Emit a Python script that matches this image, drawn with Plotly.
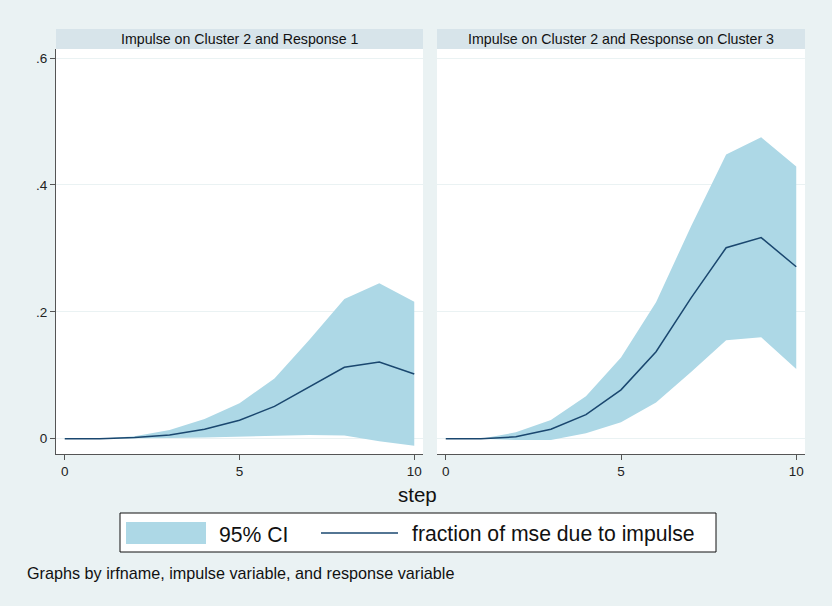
import plotly.graph_objects as go

steps = [0, 1, 2, 3, 4, 5, 6, 7, 8, 9, 10]

# Panel 1: Impulse on Cluster 2 and Response 1
p1_fmse = [0, 0, 0.002, 0.006, 0.015, 0.029, 0.051, 0.082, 0.1125, 0.121, 0.102]
p1_upper = [0, 0, 0.004, 0.0137, 0.031, 0.056, 0.095, 0.156, 0.220, 0.245, 0.216]
p1_lower = [0, 0, 0.0, 0.001, 0.002, 0.003, 0.004, 0.006, 0.005, -0.004, -0.011]

# Panel 2: Impulse on Cluster 2 and Response on Cluster 3
p2_fmse = [0, 0, 0.003, 0.015, 0.038, 0.077, 0.137, 0.222, 0.301, 0.317, 0.271]
p2_upper = [0, 0, 0.010, 0.0295, 0.067, 0.128, 0.215, 0.335, 0.448, 0.475, 0.429]
p2_lower = [0, 0, -0.002, -0.002, 0.0085, 0.026, 0.057, 0.105, 0.155, 0.160, 0.110]

panel_titles = ["Impulse on Cluster 2 and Response 1",
                "Impulse on Cluster 2 and Response on Cluster 3"]
y_tickvals = [0, 0.2, 0.4, 0.6]
y_ticktext = ["0", ".2", ".4", ".6"]
x_tickvals = [0, 5, 10]

W, H = 832, 606
BG = "#eaf2f3"
STRIP = "#d7e4ea"
FILL = "#add8e6"
LINE = "#1a476f"
AX = "#555555"
FONT = "Liberation Sans, Arial, Helvetica, sans-serif"

def px_x(v):
    return v / W

def px_y(v):
    return 1 - v / H

fig = go.Figure()

panels = [(p1_lower, p1_upper, p1_fmse, "x", "y"),
          (p2_lower, p2_upper, p2_fmse, "x2", "y2")]
for i, (lo, up, fm, xa, ya) in enumerate(panels):
    fig.add_trace(go.Scatter(x=steps, y=lo, mode="lines", line=dict(width=0, color=FILL),
                             showlegend=False, hoverinfo="skip", xaxis=xa, yaxis=ya))
    fig.add_trace(go.Scatter(x=steps, y=up, mode="lines", line=dict(width=0, color=FILL),
                             fill="tonexty", fillcolor=FILL, name="95% CI",
                             showlegend=False, xaxis=xa, yaxis=ya))
    fig.add_trace(go.Scatter(x=steps, y=fm, mode="lines", line=dict(width=1.5, color=LINE),
                             name="fraction of mse due to impulse", showlegend=False,
                             xaxis=xa, yaxis=ya))

left_dom = [px_x(56), px_x(423)]
right_dom = [px_x(437), px_x(805)]
ydom = [px_y(454), px_y(49)]
yrange = [-0.0241, 0.6142]
xrange = [-0.25, 10.25]

common_x = dict(range=xrange, tickvals=x_tickvals, ticks="outside", ticklen=5,
                tickcolor=AX, showline=True, linecolor=AX, linewidth=1.2,
                showgrid=False, zeroline=False,
                tickfont=dict(size=13.5, color="#222", family=FONT))
fig.update_layout(
    xaxis=dict(domain=left_dom, anchor="y", **common_x),
    xaxis2=dict(domain=right_dom, anchor="y2", **common_x),
    yaxis=dict(domain=ydom, anchor="x", range=yrange, tickvals=y_tickvals,
               ticktext=y_ticktext, ticks="outside", ticklen=5, tickcolor=AX,
               showline=True, linecolor=AX, linewidth=1.2, showgrid=True,
               gridcolor=BG, gridwidth=1, zeroline=False,
               tickfont=dict(size=13.5, color="#222", family=FONT)),
    yaxis2=dict(domain=ydom, anchor="x2", range=yrange, tickvals=y_tickvals,
                showticklabels=False, ticks="", showline=False, showgrid=True,
                gridcolor=BG, gridwidth=1, zeroline=False),
)

shapes = []
annotations = []
# title strips
for dom, title in zip([left_dom, right_dom], panel_titles):
    shapes.append(dict(type="rect", xref="paper", yref="paper",
                       x0=dom[0], x1=dom[1], y0=px_y(49), y1=px_y(29),
                       fillcolor=STRIP, line=dict(width=0), layer="below"))
    annotations.append(dict(xref="paper", yref="paper", x=(dom[0] + dom[1]) / 2,
                            y=px_y(39), text=title, showarrow=False,
                            xanchor="center", yanchor="middle",
                            font=dict(size=14.2, color="#111", family=FONT)))

# x title
annotations.append(dict(xref="paper", yref="paper", x=px_x(417), y=px_y(495),
                        text="step", showarrow=False, xanchor="center", yanchor="middle",
                        font=dict(size=20.5, color="#111", family=FONT)))

# legend box (manual)
shapes.append(dict(type="rect", xref="paper", yref="paper",
                   x0=px_x(120), x1=px_x(716), y0=px_y(552), y1=px_y(513),
                   fillcolor="white", line=dict(color="#111", width=1)))
shapes.append(dict(type="rect", xref="paper", yref="paper",
                   x0=px_x(126), x1=px_x(206), y0=px_y(544), y1=px_y(522),
                   fillcolor=FILL, line=dict(width=0)))
shapes.append(dict(type="line", xref="paper", yref="paper",
                   x0=px_x(321), x1=px_x(398), y0=px_y(533), y1=px_y(533),
                   line=dict(color=LINE, width=1.5)))
annotations.append(dict(xref="paper", yref="paper", x=px_x(217), y=px_y(534),
                        text="95% CI", showarrow=False, xanchor="left", yanchor="middle",
                        font=dict(size=21.2, color="#111", family=FONT)))
annotations.append(dict(xref="paper", yref="paper", x=px_x(410), y=px_y(534),
                        text="fraction of mse due to impulse", showarrow=False,
                        xanchor="left", yanchor="middle",
                        font=dict(size=21.2, color="#111", family=FONT)))
# note
annotations.append(dict(xref="paper", yref="paper", x=px_x(25), y=px_y(573),
                        text="Graphs by irfname, impulse variable, and response variable",
                        showarrow=False, xanchor="left", yanchor="middle",
                        font=dict(size=16.2, color="#111", family=FONT)))

fig.update_layout(
    width=W, height=H, margin=dict(l=0, r=0, t=0, b=0),
    paper_bgcolor=BG, plot_bgcolor="white",
    shapes=shapes, annotations=annotations, showlegend=False,
    font=dict(family=FONT),
)

fig.write_html("out.html")
